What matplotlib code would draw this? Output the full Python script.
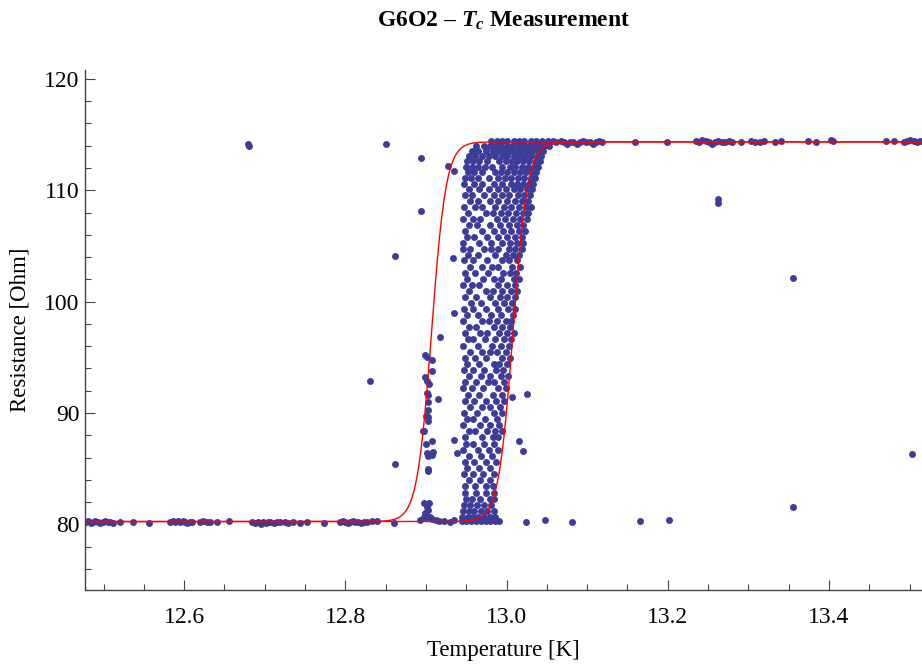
import numpy as np
import matplotlib.pyplot as plt
from matplotlib.ticker import MultipleLocator, FormatStrFormatter

plt.rcParams['font.family'] = ['Liberation Serif', 'DejaVu Serif']
plt.rcParams['mathtext.fontset'] = 'custom'
plt.rcParams['mathtext.it'] = 'Liberation Serif:italic:bold'
plt.rcParams['mathtext.rm'] = 'Liberation Serif:bold'

# puntos sobre la linea base (estado superconductor)
base_T = [12.478, 12.481, 12.484, 12.487, 12.490, 12.493, 12.496, 12.499, 12.502, 12.505,
          12.508, 12.512, 12.521, 12.536, 12.556, 12.583, 12.586, 12.589, 12.592, 12.595,
          12.598, 12.601, 12.604, 12.607, 12.610, 12.620, 12.624, 12.628, 12.632, 12.641,
          12.656, 12.684, 12.688, 12.692, 12.695, 12.698, 12.701, 12.704, 12.707, 12.711,
          12.715, 12.719, 12.725, 12.729, 12.735, 12.744, 12.752, 12.773, 12.794, 12.797,
          12.800, 12.803, 12.806, 12.809, 12.812, 12.816, 12.820, 12.823, 12.827, 12.833,
          12.839]
base_R = [80.2, 80.3, 80.1, 80.2, 80.3, 80.2, 80.1, 80.2, 80.3, 80.2,
          80.2, 80.1, 80.2, 80.2, 80.1, 80.2, 80.3, 80.2, 80.3, 80.2,
          80.3, 80.2, 80.1, 80.2, 80.2, 80.2, 80.3, 80.2, 80.2, 80.2,
          80.3, 80.2, 80.1, 80.2, 80.0, 80.2, 80.1, 80.2, 80.2, 80.1,
          80.2, 80.2, 80.2, 80.1, 80.2, 80.1, 80.2, 80.1, 80.2, 80.3,
          80.2, 80.1, 80.2, 80.3, 80.2, 80.2, 80.1, 80.2, 80.2, 80.3,
          80.3]

# puntos sobre la meseta superior (estado normal)
top_T = [13.061, 13.067, 13.071, 13.075, 13.079, 13.083, 13.087, 13.091, 13.095, 13.099,
         13.103, 13.107, 13.111, 13.115, 13.119, 13.159, 13.199, 13.235, 13.239, 13.243,
         13.247, 13.251, 13.255, 13.259, 13.263, 13.267, 13.271, 13.276, 13.280, 13.291,
         13.303, 13.308, 13.314, 13.320, 13.333, 13.340, 13.374, 13.384, 13.402, 13.405,
         13.471, 13.481, 13.493, 13.497, 13.501, 13.505, 13.509, 13.513, 13.517]
top_R = [114.3, 114.4, 114.3, 114.2, 114.3, 114.3, 114.2, 114.3, 114.4, 114.3,
         114.3, 114.2, 114.3, 114.4, 114.3, 114.3, 114.3, 114.4, 114.3, 114.5,
         114.4, 114.3, 114.2, 114.3, 114.4, 114.3, 114.3, 114.4, 114.3, 114.3,
         114.4, 114.3, 114.3, 114.4, 114.3, 114.4, 114.4, 114.3, 114.5, 114.4,
         114.4, 114.4, 114.3, 114.4, 114.5, 114.4, 114.3, 114.4, 114.4]

# rama de enfriamiento cerca de 12.90 K
left_T = [12.899, 12.901, 12.907, 12.907, 12.899, 12.901, 12.904, 12.901, 12.903, 12.903,
          12.903, 12.900, 12.903, 12.902, 12.898, 12.896, 12.907, 12.900, 12.901, 12.905,
          12.909, 12.903, 12.907, 12.903, 12.903, 12.901, 12.903, 12.899, 12.897, 12.901,
          12.905, 12.907, 12.893, 12.912, 12.916, 12.922, 12.930, 12.935, 12.898, 12.904]
left_R = [95.2, 95.0, 94.8, 93.8, 93.2, 92.9, 92.6, 91.8, 91.6, 91.0,
          90.3, 89.7, 89.6, 89.3, 88.4, 88.4, 87.5, 87.2, 86.4, 86.3,
          86.5, 86.1, 86.2, 85.0, 84.8, 81.6, 81.3, 81.0, 80.7, 80.7,
          80.7, 80.5, 80.4, 80.4, 80.3, 80.3, 80.2, 80.4, 81.9, 81.9]

# puntos sueltos
out_T = [12.679, 12.680, 12.850, 12.894, 12.894, 12.928, 12.935, 12.862, 12.933, 12.935,
         12.918, 12.862, 12.915, 12.831, 12.935, 12.939, 13.007, 13.025, 13.015, 13.021,
         12.860, 13.024, 13.048, 13.081, 13.166, 13.201, 13.262, 13.262, 13.356, 13.503,
         13.356]
out_R = [114.2, 114.0, 114.2, 112.9, 108.1, 112.2, 111.7, 104.1, 103.9, 99.0,
         96.8, 85.4, 91.3, 92.9, 87.6, 86.4, 91.4, 91.7, 87.5, 86.6,
         80.1, 80.2, 80.4, 80.2, 80.3, 80.4, 109.2, 108.9, 102.1, 86.3,
         81.6]

# nube densa de la transicion: (R, [T...]) por fila
cluster_rows = [
    (114.4, [12.981, 12.988, 12.995, 13.001, 13.009, 13.015, 13.022, 13.030, 13.037, 13.044, 13.051, 13.058]),
    (114.0, [12.962, 12.972, 12.979, 12.986, 12.993, 13.000, 13.007, 13.014, 13.020, 13.027, 13.034, 13.040, 13.047, 13.053]),
    (113.55, [12.957, 12.965, 12.975, 12.983, 12.990, 12.997, 13.004, 13.012, 13.018, 13.025, 13.032, 13.039, 13.045]),
    (113.1, [12.953, 12.961, 12.969, 12.978, 12.986, 12.994, 13.001, 13.009, 13.016, 13.023, 13.030, 13.038, 13.043]),
    (112.6, [12.951, 12.959, 12.966, 12.976, 12.991, 12.999, 13.007, 13.013, 13.021, 13.028, 13.036, 13.041]),
    (112.1, [12.950, 12.957, 12.964, 12.973, 12.982, 12.995, 13.004, 13.011, 13.019, 13.027, 13.034, 13.039]),
    (111.6, [12.952, 12.960, 12.970, 12.986, 12.993, 13.001, 13.009, 13.017, 13.024, 13.032, 13.037]),
    (111.1, [12.949, 12.956, 12.965, 12.978, 12.989, 12.998, 13.006, 13.014, 13.022, 13.030, 13.035]),
    (110.6, [12.947, 12.960, 12.969, 12.985, 12.994, 13.005, 13.013, 13.020, 13.028, 13.033]),
    (110.1, [12.953, 12.966, 12.978, 12.989, 12.999, 13.009, 13.017, 13.025, 13.031]),
    (109.55, [12.948, 12.957, 12.972, 12.984, 12.994, 13.003, 13.014, 13.022, 13.029]),
    (109.0, [12.955, 12.964, 12.980, 12.990, 13.001, 13.011, 13.019, 13.027]),
    (108.5, [12.947, 12.961, 12.970, 12.986, 12.997, 13.006, 13.016, 13.024, 13.030]),
    (107.95, [12.952, 12.975, 12.983, 12.993, 13.002, 13.012, 13.020, 13.027]),
    (107.4, [12.946, 12.958, 12.967, 12.988, 12.998, 13.008, 13.017, 13.025]),
    (106.9, [12.954, 12.963, 12.979, 12.992, 13.003, 13.013, 13.021]),
    (106.35, [12.948, 12.969, 12.984, 12.996, 13.006, 13.015, 13.023]),
    (105.8, [12.951, 12.960, 12.976, 12.990, 13.000, 13.010, 13.019]),
    (105.3, [12.946, 12.966, 12.981, 12.994, 13.004, 13.013, 13.021]),
    (104.75, [12.946, 12.955, 12.972, 12.981, 12.990, 13.003, 13.011, 13.019]),
    (104.2, [12.952, 12.965, 12.986, 12.999, 13.008, 13.016]),
    (103.7, [12.947, 12.958, 12.976, 12.994, 13.003, 13.013]),
    (103.15, [12.955, 12.969, 12.982, 12.990, 13.007, 13.017]),
    (102.6, [12.948, 12.961, 12.977, 12.996, 13.004, 13.012]),
    (102.05, [12.951, 12.971, 12.985, 12.993, 13.009, 13.015]),
    (101.5, [12.946, 12.957, 12.966, 12.989, 13.000, 13.010]),
    (101.0, [12.953, 12.975, 12.983, 12.995, 13.005, 13.013]),
    (100.45, [12.948, 12.962, 12.979, 12.992, 13.001, 13.011]),
    (99.9, [12.956, 12.968, 12.986, 12.997, 13.007]),
    (99.35, [12.947, 12.959, 12.974, 12.990, 13.002, 13.010]),
    (98.8, [12.951, 12.965, 12.981, 12.993, 13.008]),
    (98.25, [12.946, 12.970, 12.978, 12.988, 12.999, 13.006]),
    (97.7, [12.954, 12.962, 12.984, 12.995, 13.004]),
    (97.15, [12.948, 12.967, 12.976, 12.991, 13.001, 13.009]),
    (96.6, [12.952, 12.959, 12.973, 12.986, 12.997, 13.005]),
    (96.05, [12.946, 12.964, 12.982, 12.993, 13.003]),
    (95.5, [12.955, 12.970, 12.979, 12.988, 12.999]),
    (94.95, [12.948, 12.961, 12.975, 12.994, 13.004]),
    (94.4, [12.951, 12.966, 12.984, 12.991, 13.000]),
    (93.85, [12.947, 12.958, 12.972, 12.987, 12.996]),
    (93.3, [12.954, 12.968, 12.980, 12.993, 13.002]),
    (92.75, [12.949, 12.962, 12.977, 12.985, 12.997]),
    (92.2, [12.946, 12.957, 12.971, 12.990, 12.999]),
    (91.65, [12.952, 12.966, 12.983, 12.994]),
    (91.1, [12.948, 12.960, 12.975, 12.987, 12.997]),
    (90.55, [12.955, 12.970, 12.979, 12.992]),
    (90.0, [12.947, 12.963, 12.984, 12.995]),
    (89.45, [12.951, 12.958, 12.973, 12.988]),
    (88.9, [12.946, 12.967, 12.980, 12.991]),
    (88.35, [12.953, 12.961, 12.976, 12.986, 12.994]),
    (87.8, [12.948, 12.969, 12.983, 12.990]),
    (87.25, [12.950, 12.958, 12.972, 12.985]),
    (86.7, [12.946, 12.964, 12.978, 12.989]),
    (86.15, [12.954, 12.968, 12.982]),
    (85.6, [12.948, 12.960, 12.975, 12.987]),
    (85.05, [12.951, 12.966, 12.980]),
    (84.5, [12.947, 12.958, 12.971, 12.984]),
    (83.95, [12.953, 12.967, 12.979]),
    (83.4, [12.948, 12.961, 12.974, 12.983]),
    (82.85, [12.948, 12.962, 12.975, 12.984]),
    (82.3, [12.950, 12.957, 12.967, 12.979, 12.985]),
    (81.75, [12.947, 12.955, 12.963, 12.972, 12.981]),
    (81.2, [12.946, 12.953, 12.960, 12.968, 12.976, 12.984]),
    (80.7, [12.945, 12.952, 12.958, 12.965, 12.972, 12.979, 12.986]),
    (80.3, [12.945, 12.950, 12.956, 12.962, 12.968, 12.974, 12.980, 12.986, 12.991]),
]

# parametros del ajuste (dos ramas tanh, histeresis)
R_low, R_high = 80.25, 114.35
Tc_down, Tc_up, width = 12.907, 13.008, 0.018

cl_T = [t for r, ts in cluster_rows for t in ts]
cl_R = [r for r, ts in cluster_rows for t in ts]

T_all = base_T + top_T + left_T + out_T + cl_T
R_all = base_R + top_R + left_R + out_R + cl_R

fig = plt.figure(figsize=(9.22, 6.64), dpi=100)
ax = fig.add_axes([0.0922, 0.1114, 0.9078, 0.7838])

ax.scatter(T_all, R_all, s=25, color='#3d3d99', linewidths=0, zorder=2)

x_fit = np.linspace(12.477, 13.52, 800)
for tc in (Tc_down, Tc_up):
    y_fit = R_low + (R_high - R_low) / 2 * (1 + np.tanh((x_fit - tc) / width))
    ax.plot(x_fit, y_fit, color='red', lw=1.0, zorder=3)

ax.set_xlim(12.477, 13.5155)
ax.set_ylim(74.1, 120.84)

ax.xaxis.set_major_locator(MultipleLocator(0.2))
ax.xaxis.set_minor_locator(MultipleLocator(0.05))
ax.xaxis.set_major_formatter(FormatStrFormatter('%.1f'))
ax.yaxis.set_major_locator(MultipleLocator(10))
ax.yaxis.set_minor_locator(MultipleLocator(2))

ax.spines['top'].set_visible(False)
ax.spines['right'].set_visible(False)
for s in ('left', 'bottom'):
    ax.spines[s].set_color('#444444')
    ax.spines[s].set_linewidth(1.0)

ax.tick_params(which='both', direction='in', color='#444444', labelsize=17)
ax.tick_params(which='major', length=7, width=0.8)
ax.tick_params(which='minor', length=4, width=0.8)
ax.tick_params(axis='x', which='major', pad=12)
ax.tick_params(axis='y', which='major', pad=4)

ax.set_xlabel('Temperature [K]', fontsize=16.5, labelpad=9)
ax.set_ylabel('Resistance [Ohm]', fontsize=16.5, labelpad=10)
ax.set_title(r'G6O2 – $T_c$ Measurement', fontsize=17, fontweight='bold', pad=31)

fig.savefig('out.png', dpi=100)
